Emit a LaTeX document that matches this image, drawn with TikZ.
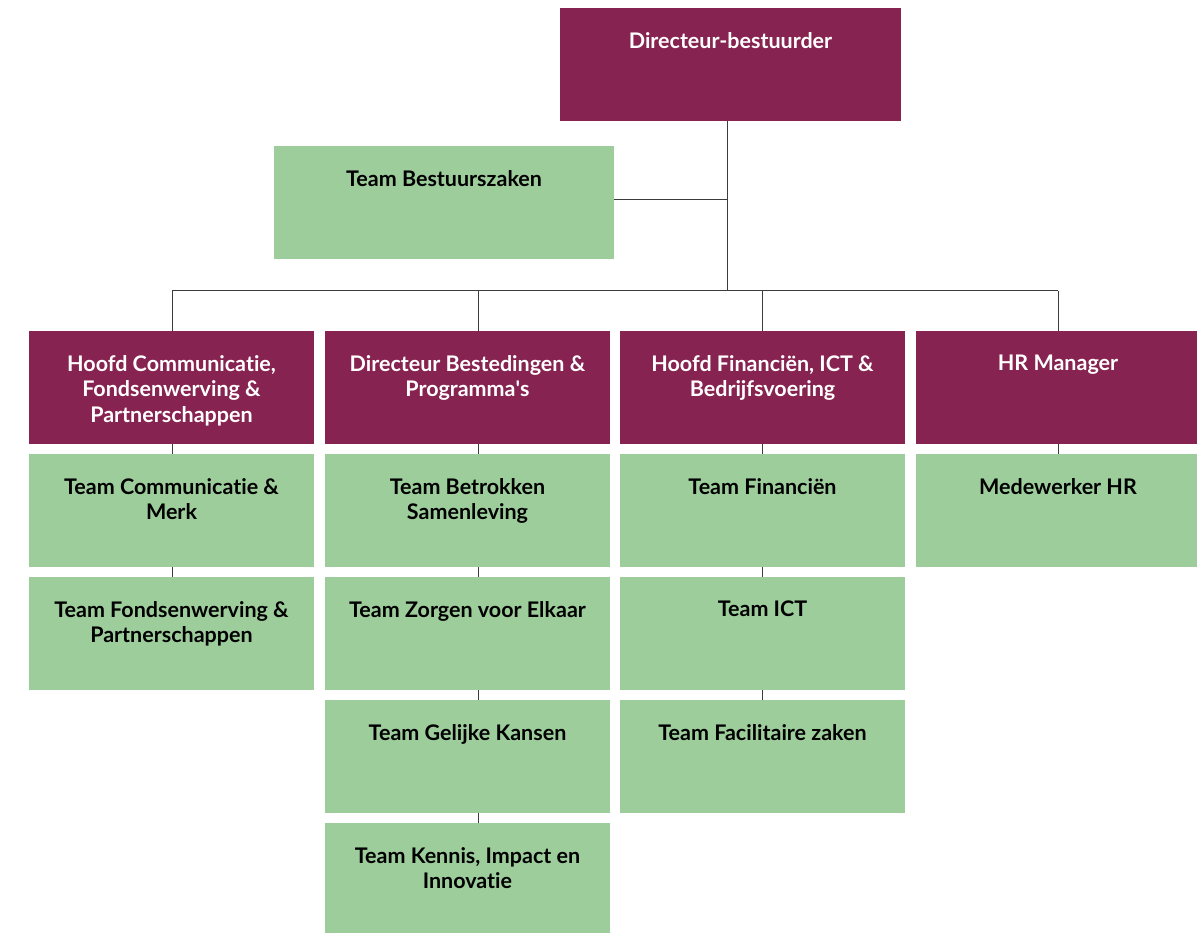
\documentclass[tikz,border=0pt]{standalone}
\usepackage{fontspec}
\setmainfont[RawFeature=-liga]{Lato}
\definecolor{plum}{RGB}{135,35,80}
\definecolor{sage}{RGB}{158,205,156}
\definecolor{wire}{RGB}{60,60,60}
\tikzset{
  box/.style={rectangle, inner sep=0pt, outer sep=0pt, minimum width=285pt, minimum height=113pt},
  pbox/.style={box, fill=plum},
  gbox/.style={box, fill=sage},
  txt/.style={anchor=north, inner sep=0pt, align=center, font=\fontsize{21.5}{25.5}\selectfont\bfseries},
  ptxt/.style={txt, text=white},
  gtxt/.style={txt, text=black},
  wire/.style={draw=wire, line width=1pt}
}
\newcommand{\boxtext}[3]{\node[#1] at ([yshift=-24pt]#2.north) {#3};}
\begin{document}
\begin{tikzpicture}[x=1pt,y=-1pt]
\useasboundingbox (0,0) rectangle (1197,933);
% top
\node[pbox, minimum width=341pt] (dir) at (730.5,64.5) {};
\node[gbox, minimum width=340pt] (bes) at (444,202.5) {};
% managers
\node[pbox] (m1) at (171.5,387.5) {};
\node[pbox] (m2) at (467.5,387.5) {};
\node[pbox] (m3) at (762.5,387.5) {};
\node[pbox] (m4) at (1058,387.5) {};
% teams
\node[gbox] (a1) at (171.5,510.5) {};
\node[gbox] (a2) at (171.5,633.5) {};
\node[gbox] (b1) at (467.5,510.5) {};
\node[gbox] (b2) at (467.5,633.5) {};
\node[gbox] (b3) at (467.5,756.5) {};
\node[gbox] (b4) at (467.5,879.5) {};
\node[gbox] (c1) at (762.5,510.5) {};
\node[gbox] (c2) at (762.5,633.5) {};
\node[gbox] (c3) at (762.5,756.5) {};
\node[gbox] (d1) at (1058,510.5) {};
% texts
\boxtext{ptxt}{dir}{Directeur-bestuurder}
\boxtext{gtxt}{bes}{Team Bestuurszaken}
\boxtext{ptxt}{m1}{Hoofd Communicatie,\\Fondsenwerving \&\\Partnerschappen}
\boxtext{ptxt}{m2}{Directeur Bestedingen \&\\Programma\textquotesingle s}
\boxtext{ptxt}{m3}{Hoofd Financiën, ICT \&\\Bedrijfsvoering}
\boxtext{ptxt}{m4}{HR Manager}
\boxtext{gtxt}{a1}{Team Communicatie \&\\Merk}
\boxtext{gtxt}{a2}{Team Fondsenwerving \&\\Partnerschappen}
\boxtext{gtxt}{b1}{Team Betrokken\\Samenleving}
\boxtext{gtxt}{b2}{Team Zorgen voor Elkaar}
\boxtext{gtxt}{b3}{Team Gelijke Kansen}
\boxtext{gtxt}{b4}{Team Kennis, Impact en\\Innovatie}
\boxtext{gtxt}{c1}{Team Financiën}
\boxtext{gtxt}{c2}{Team ICT}
\boxtext{gtxt}{c3}{Team Facilitaire zaken}
\boxtext{gtxt}{d1}{Medewerker HR}
% connectors
\coordinate (hub) at (727,291);
\coordinate (bj) at (727,200);
\coordinate (d1x) at (172,291);
\coordinate (d2x) at (478,291);
\coordinate (d3x) at (762,291);
\coordinate (d4x) at (1058,291);
\draw[wire] (dir.south -| hub) -- (hub);
\draw[wire] (bes.east |- bj) -- (bj);
\draw[wire] (d1x) -- (d4x);
\draw[wire] (d1x) -- (d1x |- m1.north);
\draw[wire] (d2x) -- (d2x |- m2.north);
\draw[wire] (d3x) -- (d3x |- m3.north);
\draw[wire] (d4x) -- (d4x |- m4.north);
\draw[wire] (d1x |- m1.south) -- (d1x |- a1.north);
\draw[wire] (d1x |- a1.south) -- (d1x |- a2.north);
\draw[wire] (d2x |- m2.south) -- (d2x |- b1.north);
\draw[wire] (d2x |- b1.south) -- (d2x |- b2.north);
\draw[wire] (d2x |- b2.south) -- (d2x |- b3.north);
\draw[wire] (d2x |- b3.south) -- (d2x |- b4.north);
\draw[wire] (d3x |- m3.south) -- (d3x |- c1.north);
\draw[wire] (d3x |- c1.south) -- (d3x |- c2.north);
\draw[wire] (d3x |- c2.south) -- (d3x |- c3.north);
\draw[wire] (d4x |- m4.south) -- (d4x |- d1.north);
\end{tikzpicture}
\end{document}
